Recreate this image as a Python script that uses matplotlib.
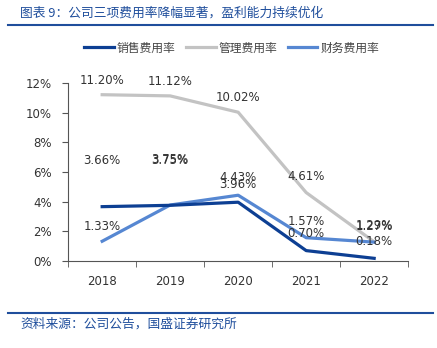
import numpy as np
import matplotlib.pyplot as plt
from matplotlib.lines import Line2D

plt.rcParams["font.family"] = ["DejaVu Sans", "Noto Sans CJK SC"]

# %% data
years = ["2018", "2019", "2020", "2021", "2022"]
series_names = ["销售费用率", "管理费用率", "财务费用率"]
sales_rate = [3.66, 3.75, 3.96, 0.70, 0.18]
admin_rate = [11.20, 11.12, 10.02, 4.61, 1.29]
finance_rate = [1.33, 3.77, 4.43, 1.57, 1.27]
sales_labels = ["3.66%", "3.75%", "3.96%", "0.70%", "0.18%"]
admin_labels = ["11.20%", "11.12%", "10.02%", "4.61%", "1.29%"]
finance_labels = ["1.33%", "3.75%", "4.43%", "1.57%", "1.27%"]

title = "图表 9：公司三项费用率降幅显著，盈利能力持续优化"
source = "资料来源：公司公告，国盛证券研究所"

colors = ["#0D3F93", "#C3C3C3", "#5687D2"]
blue_txt = "#1F4E9C"
cjk = ["Noto Sans CJK SC", "DejaVu Sans"]

# %% figure
fig = plt.figure(figsize=(4.37, 3.48), dpi=100)
ax = fig.add_axes([0.156, 0.25, 0.778, 0.512])

x = np.arange(len(years))
ax.plot(x, sales_rate, color=colors[0], lw=2.3, zorder=4)
ax.plot(x, admin_rate, color=colors[1], lw=2.3, zorder=2)
ax.plot(x, finance_rate, color=colors[2], lw=2.3, zorder=3)

# data labels (offsets in pixels above the point)
sales_off = [46, 46, 18, 17, 17]
admin_off = [14, 14, 15, 16, 16]
finance_off = [15, 45, 18, 16, 16]
for vals, labs, offs in [(sales_rate, sales_labels, sales_off),
                         (admin_rate, admin_labels, admin_off),
                         (finance_rate, finance_labels, finance_off)]:
    for i, (v, lab, off) in enumerate(zip(vals, labs, offs)):
        ax.annotate(lab, (x[i], v), xytext=(0, off * 0.72), textcoords="offset points",
                    ha="center", va="center", fontsize=8.5, color="#333333",
                    annotation_clip=False, zorder=6)

ax.set_xlim(-0.5, 4.5)
ax.set_ylim(0, 12)
ax.set_yticks(np.arange(0, 13, 2))
ax.set_yticklabels([f"{v}%" for v in range(0, 13, 2)])
ax.set_xticks(x)
ax.set_xticklabels(years)
ax.set_xticks(np.arange(-0.5, 5, 1), minor=True)
ax.tick_params(axis="x", which="major", length=0, pad=10, labelsize=8.5, labelcolor="#333333")
ax.tick_params(axis="x", which="minor", length=4, direction="out", color="#555555")
ax.tick_params(axis="y", length=4, direction="out", labelsize=8.5, labelcolor="#333333",
               color="#555555", pad=8)
for s in ["top", "right"]:
    ax.spines[s].set_visible(False)
ax.spines["left"].set_color("#555555")
ax.spines["bottom"].set_color("#555555")

handles = [Line2D([], [], color=c, lw=2.3) for c in colors]
fig.legend(handles, series_names, loc="center", bbox_to_anchor=(0.53, 0.862), ncol=3,
           frameon=False, prop={"family": cjk, "size": 8.5}, handlelength=2.5,
           columnspacing=0.9, handletextpad=0.25, labelcolor="#444444")

# title and source
fig.text(0.046, 0.962, title, fontsize=9.2, color=blue_txt, style="italic",
         family=cjk, va="center")
fig.add_artist(Line2D([0.018, 0.99], [0.927, 0.927], color=blue_txt, lw=1.5,
                      transform=fig.transFigure))
fig.add_artist(Line2D([0.018, 0.99], [0.1, 0.1], color=blue_txt, lw=1.5,
                      transform=fig.transFigure))
fig.text(0.046, 0.07, source, fontsize=9.2, color=blue_txt, style="italic",
         family=cjk, va="center")

fig.savefig("out.png", dpi=100)
